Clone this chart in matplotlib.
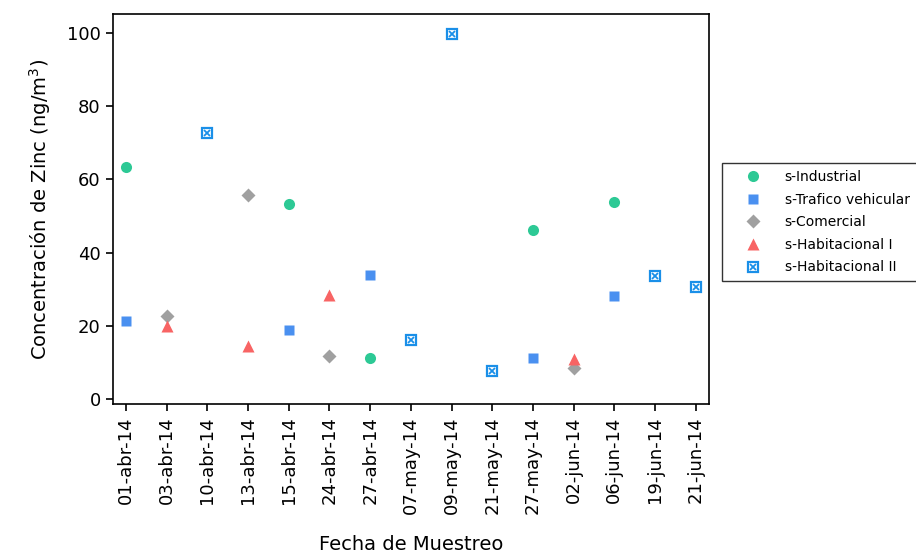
import matplotlib.pyplot as plt
from matplotlib.legend_handler import HandlerTuple
import numpy as np

fechas = ['01-abr-14', '03-abr-14', '10-abr-14', '13-abr-14', '15-abr-14',
          '24-abr-14', '27-abr-14', '07-may-14', '09-may-14', '21-may-14',
          '27-may-14', '02-jun-14', '06-jun-14', '19-jun-14', '21-jun-14']

# (fecha, valor) por sitio
industrial_f = ['01-abr-14', '15-abr-14', '27-abr-14', '27-may-14', '06-jun-14']
industrial_v = [63.5, 53.4, 11.2, 46.1, 53.8]
trafico_f = ['01-abr-14', '15-abr-14', '27-abr-14', '27-may-14', '06-jun-14']
trafico_v = [21.5, 19.0, 33.8, 11.3, 28.2]
comercial_f = ['03-abr-14', '13-abr-14', '24-abr-14', '02-jun-14']
comercial_v = [22.7, 55.8, 11.8, 8.6]
hab1_f = ['03-abr-14', '13-abr-14', '24-abr-14', '02-jun-14']
hab1_v = [20.0, 14.5, 28.6, 11.1]
hab2_f = ['10-abr-14', '07-may-14', '09-may-14', '21-may-14', '19-jun-14', '21-jun-14']
hab2_v = [72.8, 16.3, 99.7, 7.8, 33.6, 30.7]

pos = {f: i for i, f in enumerate(fechas)}

fig = plt.figure(figsize=(9.16, 5.54), dpi=100, facecolor='white')
ax = fig.add_axes([0.123, 0.27, 0.651, 0.705])

ms = 8
h1, = ax.plot([pos[f] for f in industrial_f], industrial_v, 'o', ms=ms,
              color='#2DC995', mec='none', label='s-Industrial')
h2, = ax.plot([pos[f] for f in trafico_f], trafico_v, 's', ms=ms - 0.5,
              color='#4A90F0', mec='none', label='s-Trafico vehicular')
h3, = ax.plot([pos[f] for f in comercial_f], comercial_v, 'D', ms=ms - 1,
              color='#A0A0A0', mec='none', label='s-Comercial')
h4, = ax.plot([pos[f] for f in hab1_f], hab1_v, '^', ms=ms + 1,
              color='#F86464', mec='none', label='s-Habitacional I')
h5a, = ax.plot([pos[f] for f in hab2_f], hab2_v, 's', ms=ms - 1.5,
               mfc='none', mec='#1A8FE8', mew=1.6)
h5b, = ax.plot([pos[f] for f in hab2_f], hab2_v, 'x', ms=ms - 3.5,
               color='#1A8FE8', mew=1.3)

ax.set_xlim(-0.33, len(fechas) - 0.67)
ax.set_ylim(-1.4, 105.2)
ax.set_xticks(range(len(fechas)))
ax.set_xticklabels(fechas, rotation=90)
ax.set_yticks([0, 20, 40, 60, 80, 100])
ax.tick_params(direction='out', length=5, width=1.2, labelsize=13, colors='black')
for s in ax.spines.values():
    s.set_linewidth(1.2)

ax.set_ylabel('Concentración de Zinc (ng/m$^3$)', fontsize=14, labelpad=10)
ax.set_xlabel('Fecha de Muestreo', fontsize=14, labelpad=15)

leg = ax.legend([h1, h2, h3, h4, (h5a, h5b)],
                ['s-Industrial', 's-Trafico vehicular', 's-Comercial',
                 's-Habitacional I', 's-Habitacional II'],
                handler_map={tuple: HandlerTuple(ndivide=1, pad=0)},
                loc='upper left', bbox_to_anchor=(1.022, 0.618),
                fontsize=10, frameon=True, fancybox=False, edgecolor='black',
                handlelength=3.4, handletextpad=0.6, borderaxespad=0,
                borderpad=0.5, labelspacing=0.62, markerscale=1.0)
leg.get_frame().set_linewidth(1.0)

plt.savefig('out.png', dpi=100)
